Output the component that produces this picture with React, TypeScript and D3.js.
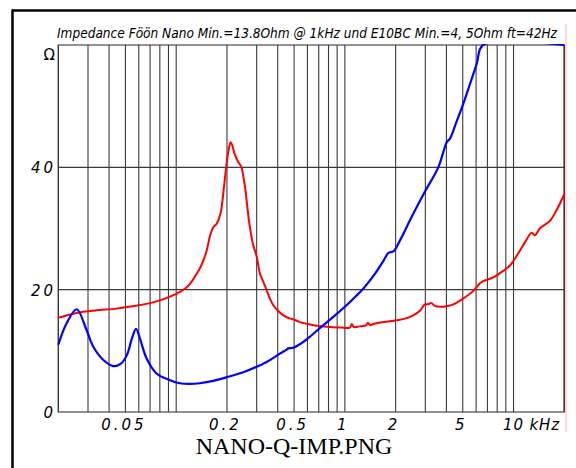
import React from "react";
import * as d3 from "d3";

const titleText = "Impedance Föön Nano Min.=13.8Ohm @ 1kHz und E10BC Min.=4, 5Ohm ft=42Hz";
const captionText = "NANO-Q-IMP.PNG";

const nanoFreq = [20, 25.7, 33, 44.4, 55, 70, 85, 100, 113, 121, 129, 137, 145, 152, 159, 166, 174, 183, 188, 192, 196, 200, 205, 210, 215, 222, 232, 244, 250, 256, 263, 270, 285, 300, 314, 328, 344, 360, 376, 400, 432, 470, 500, 542, 600, 652, 720, 818, 950, 1070, 1100, 1130, 1220, 1340, 1370, 1410, 1480, 1700, 2030, 2300, 2540, 2800, 2980, 3100, 3260, 3400, 3660, 4000, 4400, 5000, 5780, 6300, 6600, 7580, 8500, 9560, 10700, 11900, 12800, 13400, 14300, 16500, 18000, 20000];
const nanoOhm = [15.4, 16.2, 16.6, 16.9, 17.3, 17.8, 18.5, 19.3, 20.2, 21.0, 22.1, 23.3, 24.8, 26.5, 28.9, 30.2, 30.8, 32.4, 34.5, 36.8, 39.0, 41.1, 43.0, 44.1, 43.6, 42.2, 41.0, 40.0, 38.5, 36.8, 34.0, 31.3, 27.5, 25.4, 22.6, 21.3, 19.9, 18.5, 17.5, 16.6, 15.8, 15.3, 15.1, 14.7, 14.4, 14.2, 14.0, 13.9, 13.8, 13.8, 14.4, 13.9, 14.0, 14.2, 14.6, 14.2, 14.4, 14.7, 15.0, 15.3, 15.8, 16.6, 17.6, 17.6, 17.8, 17.4, 17.2, 17.3, 17.6, 18.5, 19.8, 21.0, 21.4, 22.0, 22.9, 24.0, 26.0, 28.1, 29.3, 28.9, 30.0, 31.3, 33.0, 35.6];

const e10Freq = [20, 22.4, 25.7, 29.4, 32.2, 37, 42.4, 47, 51, 54.6, 57.8, 61, 66.9, 76.4, 92, 105, 120, 138, 160, 200, 250, 300, 350, 410, 452, 462, 495, 550, 620, 716, 850, 1000, 1150, 1288, 1500, 1700, 1812, 1950, 2126, 2500, 2980, 3580, 4020, 4200, 4600, 5040, 5500, 6050, 6600, 20000];
const e10Ohm = [11.0, 14.5, 16.8, 13.4, 10.7, 8.5, 7.5, 7.9, 9.3, 12.0, 13.6, 12.0, 8.7, 6.3, 5.2, 4.7, 4.6, 4.7, 5.0, 5.7, 6.5, 7.4, 8.3, 9.5, 10.2, 10.4, 10.5, 11.2, 12.3, 13.8, 15.5, 17.2, 18.8, 20.2, 22.5, 24.8, 26.0, 26.3, 28.1, 32.0, 36.0, 40.0, 44.1, 44.7, 47.5, 50.4, 53.5, 56.9, 60, 60];

const gridFreqs = [20, 30, 40, 50, 60, 70, 80, 90, 100, 200, 300, 400, 500, 600, 700, 800, 900, 1000, 2000, 3000, 4000, 5000, 6000, 7000, 8000, 9000, 10000, 20000];
const xTickFreqs = [50, 200, 500, 1000, 2000, 5000];
const xTickLabels = ["0.05", "0.2", "0.5", "1", "2", "5"];
const yTicks = [0, 20, 40];
const yGrid = [20, 40];

export default function App() {
  const x = d3.scaleLog().domain([20, 20000]).range([58.3, 564.3]);
  const y = d3.scaleLinear().domain([0, 60]).range([412, 45]);

  const line = d3
    .line<[number, number]>()
    .x((d) => x(d[0]))
    .y((d) => y(d[1]))
    .curve(d3.curveCatmullRom.alpha(0.5));

  const nanoPts = nanoFreq.map((f, i) => [f, nanoOhm[i]] as [number, number]);
  const e10Pts = e10Freq.map((f, i) => [f, e10Ohm[i]] as [number, number]);

  const lblFont = "'DejaVu Sans', sans-serif";

  return (
    <svg
      width={576}
      height={468}
      style={{ position: "absolute", left: 0, top: 0, background: "#fff" }}
    >
      <defs>
        <clipPath id="plotclip">
          <rect x={57} y={44} width={509} height={369} />
        </clipPath>
      </defs>
      {/* outer frame */}
      <line x1={12} y1={10.5} x2={576} y2={10.5} stroke="#000" strokeWidth={2.5} />
      <line x1={12.5} y1={9.5} x2={12.5} y2={468} stroke="#000" strokeWidth={2.5} />
      <line x1={566} y1={24} x2={566} y2={432} stroke="#f4b8b8" strokeWidth={1} />

      {/* title */}
      <text
        x={57}
        y={37.5}
        fontFamily={lblFont}
        fontStyle="italic"
        fontSize={14.5}
        textLength={500}
        lengthAdjust="spacingAndGlyphs"
        fill="#000"
      >
        {titleText}
      </text>

      {/* grid */}
      {gridFreqs.map((f) => (
        <line
          key={"v" + f}
          x1={x(f)}
          x2={x(f)}
          y1={45}
          y2={412}
          stroke="#3a3a3a"
          strokeWidth={1.1}
        />
      ))}
      {yGrid.map((v) => (
        <line
          key={"h" + v}
          x1={x(20)}
          x2={x(20000)}
          y1={y(v)}
          y2={y(v)}
          stroke="#3a3a3a"
          strokeWidth={1.1}
        />
      ))}
      <rect
        x={x(20)}
        y={45}
        width={x(20000) - x(20)}
        height={367}
        fill="none"
        stroke="#3a3a3a"
        strokeWidth={1.1}
      />
      <line x1={x(20000)} x2={x(20000)} y1={45} y2={412} stroke="#5a2a2a" strokeWidth={1.2} />

      {/* curves */}
      <g clipPath="url(#plotclip)">
        <path d={line(nanoPts) || ""} fill="none" stroke="#ff0000" strokeWidth={2} strokeLinejoin="round" />
        <path d={line(e10Pts) || ""} fill="none" stroke="#0000ff" strokeWidth={2.2} strokeLinejoin="round" />
      </g>

      {/* y labels */}
      {yTicks.map((v) => (
        <text
          key={"yl" + v}
          x={56}
          y={y(v) + 6}
          textAnchor="end"
          fontFamily={lblFont}
          fontStyle="italic"
          fontSize={15}
          letterSpacing={3}
          fill="#000"
        >
          {String(v)}
        </text>
      ))}
      <text x={55} y={59.5} textAnchor="end" fontFamily={lblFont} fontSize={15} fill="#000">
        Ω
      </text>

      {/* x labels */}
      {xTickFreqs.map((f, i) => (
        <text
          key={"xl" + f}
          x={x(f) - 1.5}
          y={430}
          textAnchor="middle"
          fontFamily={lblFont}
          fontStyle="italic"
          fontSize={15}
          letterSpacing={3}
          fill="#000"
        >
          {xTickLabels[i]}
        </text>
      ))}
      <text
        x={x(10000) - 10.5}
        y={430}
        fontFamily={lblFont}
        fontStyle="italic"
        fontSize={15}
        letterSpacing={2}
        textLength={58}
        fill="#000"
      >
        10 kHz
      </text>

      {/* caption */}
      <text
        x={294}
        y={454}
        textAnchor="middle"
        fontFamily="'Liberation Serif', 'Times New Roman', serif"
        fontSize={24}
        fill="#000"
      >
        {captionText}
      </text>
    </svg>
  );
}
